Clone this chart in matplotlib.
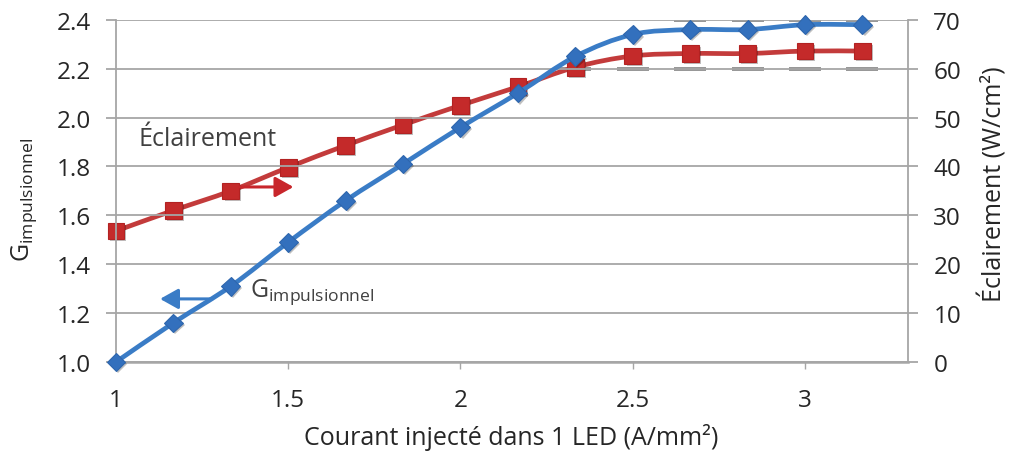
import numpy as np
import matplotlib
matplotlib.use("Agg")
import matplotlib.pyplot as plt
from matplotlib.path import Path
from matplotlib.patches import PathPatch, FancyArrowPatch
import matplotlib.patheffects as pe
from matplotlib.ticker import FormatStrFormatter

FONT = "Open Sans"
plt.rcParams["font.family"] = [FONT, "DejaVu Sans"]
plt.rcParams["mathtext.fontset"] = "custom"
plt.rcParams["mathtext.rm"] = FONT
plt.rcParams["mathtext.it"] = FONT

# Current density injected in one LED (A/mm²)
current = [1.0, 1.1667, 1.3333, 1.5, 1.6667, 1.8333, 2.0, 2.1667,
           2.3333, 2.5, 2.6667, 2.8333, 3.0, 3.1667]
# Pulsed gain (left axis)
gain = [1.00, 1.16, 1.31, 1.49, 1.66, 1.81, 1.96, 2.10,
        2.25, 2.34, 2.36, 2.36, 2.38, 2.38]
# Irradiance in W/cm² (right axis)
irradiance = [26.8, 31.0, 35.0, 39.8, 44.3, 48.5, 52.5, 56.3,
              60.3, 62.6, 63.1, 63.1, 63.6, 63.6]
# Error-bar caps on the irradiance series (W/cm²)
cap_low = [np.nan] * 8 + [60, 60, 60, 60, 60, 60]
cap_high = [np.nan] * 10 + [70, 70, 70, 70]

BLUE = "#3a7cc6"
BLUE_M = "#3370bd"
RED = "#c33b3b"
RED_M = "#c42a2a"
GRID = "#a6a6a6"
TXT = "#262626"
FS = 17.5


def smooth_path(xs, ys):
    """Cubic Bezier path through the points (Catmull-Rom style smoothing)."""
    p = np.column_stack([xs, ys]).astype(float)
    n = len(p)
    verts = [p[0]]
    codes = [Path.MOVETO]
    for i in range(n - 1):
        p0 = p[i - 1] if i > 0 else p[i]
        p1 = p[i]
        p2 = p[i + 1]
        p3 = p[i + 2] if i + 2 < n else p[i + 1]
        c1 = p1 + (p2 - p0) / 6.0
        c2 = p2 - (p3 - p1) / 6.0
        verts += [c1, c2, p2]
        codes += [Path.CURVE4] * 3
    return Path(verts, codes)


fig = plt.figure(figsize=(10.12, 4.52), dpi=100)
ax = fig.add_axes([0.1146, 0.197, 0.783, 0.757])
ax2 = ax.twinx()

ax.set_xlim(1.0, 3.30)
ax.set_ylim(1.0, 2.4)
ax2.set_ylim(0, 70)

ax.set_yticks(np.arange(1.0, 2.41, 0.2))
ax.yaxis.set_major_formatter(FormatStrFormatter("%.1f"))
ax.set_xticks([1, 1.5, 2, 2.5, 3])
ax.set_xticklabels(["1", "1.5", "2", "2.5", "3"])
ax2.set_yticks(np.arange(0, 71, 10))

ax.grid(axis="y", color=GRID, lw=1.3)
ax.set_axisbelow(True)
for a in (ax, ax2):
    for s in a.spines.values():
        s.set_visible(False)
ax.spines["left"].set_visible(True)
ax.spines["left"].set_color(GRID)
ax.spines["left"].set_linewidth(1.3)
ax.spines["bottom"].set_visible(True)
ax.spines["bottom"].set_color(GRID)
ax.spines["bottom"].set_linewidth(1.8)
ax2.spines["right"].set_visible(True)
ax2.spines["right"].set_color(GRID)
ax2.spines["right"].set_linewidth(1.3)

ax.tick_params(axis="y", length=7, width=1.3, color=GRID, labelsize=FS,
               labelcolor=TXT, pad=11)
ax.tick_params(axis="x", length=5, width=1.0, color=GRID, labelsize=FS,
               labelcolor=TXT, pad=14)
ax2.tick_params(axis="y", length=7, width=1.3, color=GRID, labelsize=FS,
                labelcolor=TXT, pad=11)

shadow = [pe.SimplePatchShadow(offset=(1.5, -1.5), shadow_rgbFace="#000000",
                               alpha=0.25),
          pe.Normal()]

# Irradiance series (right axis)
ax2.add_patch(PathPatch(smooth_path(current, irradiance), fill=False,
                        edgecolor=RED, lw=3.4, zorder=3, capstyle="round"))
ax2.plot(current, cap_low, ls="none", marker="_", ms=23, mew=2.6,
         color="#808080", zorder=2)
ax2.plot(current, cap_high, ls="none", marker="_", ms=23, mew=2.6,
         color="#808080", zorder=2)
ax2.plot(current, irradiance, ls="none", marker="s", ms=12,
         mfc=RED_M, mec="#b22222", mew=0.8, zorder=4, path_effects=shadow,
         clip_on=False)

# Pulsed gain series (left axis), drawn above the right axis
ax.set_zorder(ax2.get_zorder() + 1)
ax.patch.set_visible(False)
ax.add_patch(PathPatch(smooth_path(current, gain), fill=False,
                       edgecolor=BLUE, lw=3.4, zorder=3, capstyle="round"))
ax.plot(current, gain, ls="none", marker="D", ms=9.5,
        mfc=BLUE_M, mec="#2e66ad", mew=0.8, zorder=4, path_effects=shadow,
        clip_on=False)

# Series annotations
ax.text(1.064, 1.913, "Éclairement", fontsize=18, color="#404040",
        va="center", ha="left")
ax.add_patch(FancyArrowPatch((1.36, 1.716), (1.515, 1.716),
                             arrowstyle="-|>,head_length=5,head_width=2.8",
                             color="#c8262b", lw=2.2, zorder=5,
                             mutation_scale=2.2, shrinkA=0, shrinkB=0))
ax.text(1.39, 1.29, r"G$_{\mathregular{impulsionnel}}$", fontsize=18,
        color="#404040", va="center", ha="left")
ax.add_patch(FancyArrowPatch((1.28, 1.258), (1.128, 1.258),
                             arrowstyle="-|>,head_length=5,head_width=2.8",
                             color=BLUE, lw=2.2, zorder=5,
                             mutation_scale=2.2, shrinkA=0, shrinkB=0))

# Axis titles
fig.text(0.505, 0.033, "Courant injecté dans 1 LED (A/mm²)", fontsize=18,
         color=TXT, ha="center", va="center")
fig.text(0.024, 0.558, r"G$_{\mathregular{impulsionnel}}$", fontsize=18,
         color=TXT, ha="center", va="center", rotation=90)
fig.text(0.981, 0.592, "Éclairement (W/cm²)", fontsize=18,
         color=TXT, ha="center", va="center", rotation=90)

fig.savefig("out.png", dpi=100)
